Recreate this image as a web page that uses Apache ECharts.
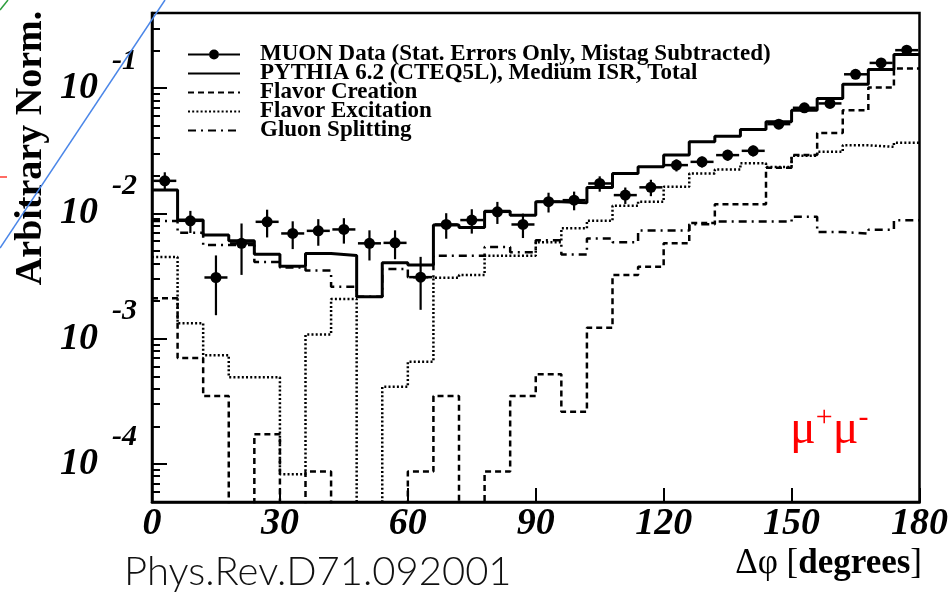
<!DOCTYPE html>
<html>
<head>
<meta charset="utf-8">
<script src="https://cdn.jsdelivr.net/npm/echarts@6/dist/echarts.min.js"></script>
<style>html,body{margin:0;padding:0;background:#fff;}#chart{width:951px;height:599px;}</style>
</head>
<body>
<div id="chart"></div>
<script>
// ---- data (6-degree bins, 0..180 deg) ----
const binLow = [0,6,12,18,24,30,36,42,48,54,60,66,72,78,84,90,96,102,108,114,120,126,132,138,144,150,156,162,168,174];
const binCenter = [3,9,15,21,27,33,39,45,51,57,63,69,75,81,87,93,99,105,111,117,123,129,135,141,147,153,159,165,171,177];
const muonData = [0.0182,0.00873,0.00308,0.00577,0.00857,0.00692,0.00726,0.00745,0.00577,0.00582,0.0031,0.00816,0.00885,0.0103,0.00816,0.0124,0.01276,0.01734,0.014,0.01615,0.0243,0.0258,0.0292,0.0316,0.0516,0.0697,0.0755,0.129,0.159,0.201];
const muonErr = [0.0031,0.00175,0.00154,0.00254,0.00214,0.00173,0.00174,0.00171,0.00156,0.00151,0.0014,0.00188,0.00195,0.00206,0.0018,0.00223,0.00217,0.00243,0.0021,0.00242,0.00267,0.00258,0.00292,0.00316,0.00413,0.00488,0.00529,0.00774,0.00795,0.01];
const pythiaTotal = [0.01535,0.00885,0.00672,0.00604,0.00473,0.00379,0.00479,0.00462,0.00216,0.00403,0.00387,0.00807,0.00773,0.01042,0.00968,0.0124,0.01216,0.0161,0.0208,0.02355,0.0292,0.0373,0.0414,0.0467,0.0538,0.0667,0.0828,0.1076,0.141,0.186];
const flavorCreation = [0.0021,0.0007,0.000348,0,0.000173,0,0.000087,0,0,0,0.000087,0.000348,0,0.000087,0.000348,0.000521,0.000261,0.00122,0.00322,0.00375,0.00577,0.0084,0.01186,0.01186,0.0232,0.0292,0.0439,0.0667,0.1013,0.1432];
const flavorExcitation = [0.00448,0.00133,0.000739,0.000492,0.000492,0.0000826,0.00108,0.00207,0,0.000413,0.000656,0.00306,0.00322,0.0046,0.0046,0.0059,0.0076,0.00873,0.0115,0.0124,0.0163,0.0208,0.0224,0.0251,0.0235,0.0288,0.031,0.035,0.034,0.0366];
const gluonSplitting = [0.0087,0.007,0.0056,0.0056,0.0041,0.0037,0.0035,0.0026,0.00216,0.0036,0.0031,0.0046,0.0046,0.0054,0.0049,0.0061,0.0047,0.0063,0.0059,0.0073,0.0073,0.0082,0.0086,0.0086,0.0086,0.0094,0.0071,0.0069,0.0074,0.0088];
const xHalfWidth = 2.7;
const yMajor = [0.0001,0.001,0.01,0.1];
const yMinor = [0.00005,0.00006,0.00007,0.00008,0.00009,0.0002,0.0003,0.0004,0.0005,0.0006,0.0007,0.0008,0.0009,0.002,0.003,0.004,0.005,0.006,0.007,0.008,0.009,0.02,0.03,0.04,0.05,0.06,0.07,0.08,0.09,0.2,0.3];
const yMin = 0.0000497, yMax = 0.398;
const names = ['MUON Data (Stat. Errors Only, Mistag Subtracted)','PYTHIA 6.2 (CTEQ5L), Medium ISR, Total','Flavor Creation','Flavor Excitation','Gluon Splitting'];

// ---- build ----
const FLOOR = 1e-8; // empty bins drawn off-scale (clipped)
function histo(vals){
  const d = vals.map((v,i)=>[binLow[i], v>0?v:FLOOR]);
  d.push([180, vals[vals.length-1]>0?vals[vals.length-1]:FLOOR]);
  return d;
}
const serif = 'Liberation Serif';
const tickFont = {fontFamily: serif, fontWeight:'bold', fontStyle:'italic', color:'#000'};
const chart = echarts.init(document.getElementById('chart'), null, {renderer:'canvas'});
const dashTypes = {solid:'solid', dashed:[6,4], dotted:[2,2.2], dashdot:[8,5,2,5]};
function histSeries(name, vals, type, width){
  return {name, type:'line', step:'end', data:histo(vals), showSymbol:false, symbol:'none',
    color:'#000', itemStyle:{color:'#000'},
    lineStyle:{color:'#000', width, type}, clip:true, z:2, animation:false};
}
const hiddenSym = {color:'rgba(0,0,0,0)', borderColor:'rgba(0,0,0,0)', borderWidth:0};
const option = {
  animation:false,
  backgroundColor:'#fff',
  grid:{left:152, right:26, top:13, bottom:97, show:true, borderColor:'#000', borderWidth:2.5, backgroundColor:'transparent'},
  xAxis:{type:'value', min:0, max:180, interval:30,
    axisLine:{show:true, lineStyle:{color:'#000', width:2.5}},
    axisTick:{show:true, inside:true, length:14, lineStyle:{color:'#000', width:2}},
    axisLabel:Object.assign({fontSize:38, margin:3, showMaxLabel:true, showMinLabel:true}, tickFont),
    splitLine:{show:false}},
  yAxis:[{type:'log', logBase:10, min:yMin, max:yMax, position:'left',
    axisLine:{show:true, lineStyle:{color:'#000', width:2.5}},
    axisTick:{show:true, inside:true, length:15, customValues:yMajor, lineStyle:{color:'#000', width:2}},
    axisLabel:{customValues:yMajor, margin:15, align:'right',
      formatter:(v)=>'{b|10}{e|'+Math.round(Math.log10(v))+'}',
      rich:{b:Object.assign({fontSize:38, lineHeight:38}, tickFont),
            e:Object.assign({fontSize:30, lineHeight:30, padding:[0,0,54,14]}, tickFont)}},
    splitLine:{show:false}},
   {type:'log', logBase:10, min:yMin, max:yMax, position:'left', offset:0,
    axisLine:{show:false},
    axisTick:{show:true, inside:true, length:8, customValues:yMinor, lineStyle:{color:'#000', width:2}},
    axisLabel:{show:false}, splitLine:{show:false}}],
  legend:{orient:'vertical', left:187, top:43, padding:0, itemGap:-4, itemWidth:52, itemHeight:12,
    textStyle:{fontFamily:serif, fontWeight:'bold', fontSize:23, color:'#000', padding:[0,0,0,15]},
    data:[{name:names[0], icon:'path://M0,5H21V7H0Z M31,5H52V7H31Z M21,6a5,5 0 1,0 10,0a5,5 0 1,0 -10,0Z', itemStyle:{color:'#000', opacity:1}},
      {name:names[1], itemStyle:hiddenSym}, {name:names[2], itemStyle:hiddenSym},
      {name:names[3], itemStyle:hiddenSym}, {name:names[4], itemStyle:hiddenSym}]},
  series:[
    histSeries(names[1], pythiaTotal, dashTypes.solid, 3),
    histSeries(names[2], flavorCreation, dashTypes.dashed, 2.5),
    histSeries(names[3], flavorExcitation, dashTypes.dotted, 2.5),
    histSeries(names[4], gluonSplitting, dashTypes.dashdot, 2.5),
    {type:'custom', name:'errors', clip:true, z:5,
     data: muonData.map((v,i)=>[binCenter[i], v, muonErr[i]]),
     renderItem:(params, api)=>{
       const x = api.value(0), y = api.value(1), e = api.value(2);
       const c = api.coord([x,y]);
       const t = api.coord([x, y+e]);
       const b = api.coord([x, Math.max(y-e, FLOOR)]);
       const l = api.coord([x-xHalfWidth, y]);
       const r = api.coord([x+xHalfWidth, y]);
       return {type:'group', children:[
         {type:'line', shape:{x1:c[0], y1:t[1], x2:c[0], y2:b[1]}, style:{stroke:'#000', lineWidth:2.2}},
         {type:'line', shape:{x1:l[0], y1:c[1], x2:r[0], y2:c[1]}, style:{stroke:'#000', lineWidth:2.5}}
       ]};
     }},
    {name:names[0], type:'scatter', symbol:'circle', symbolSize:11, z:6,
     itemStyle:{color:'#000', opacity:1}, data: muonData.map((v,i)=>[binCenter[i], v])}
  ],
  graphic:[
    {type:'text', x:31, y:148, rotation:Math.PI/2, style:{text:'Arbitrary Norm.', font:'bold 38px "Liberation Serif"', fill:'#000', align:'center', verticalAlign:'middle'}},
    {type:'text', x:922, y:564, style:{text:'{r|Δφ [}{b|degrees}{r|]}', align:'right', verticalAlign:'middle',
      rich:{r:{font:'35px "Liberation Serif"', fill:'#000'}, b:{font:'bold 35px "Liberation Serif"', fill:'#000'}}}},
    {type:'text', x:790, y:430, style:{text:'{m|μ}{s|+}{m|μ}{s|-}', align:'left', verticalAlign:'middle',
      rich:{m:{font:'48px "Liberation Serif"', fill:'#ff0000'}, s:{font:'30px "Liberation Serif"', fill:'#ff0000', padding:[0,0,24,0]}}}},
    {type:'text', x:124, y:572, style:{text:'Phys.Rev.D71.092001', font:'300 40px "Lato"', fill:'#111', align:'left', verticalAlign:'middle'}},
    {type:'line', shape:{x1:0, y1:248, x2:165, y2:0}, style:{stroke:'#4a86e8', lineWidth:1.5}, z:100},
    {type:'line', shape:{x1:0, y1:177, x2:7, y2:177}, style:{stroke:'#ff3b30', lineWidth:1.5}},
    {type:'line', shape:{x1:0, y1:10, x2:8, y2:0}, style:{stroke:'#2e9e3e', lineWidth:1.5}}
  ]
};
chart.setOption(option);
</script>
</body>
</html>
